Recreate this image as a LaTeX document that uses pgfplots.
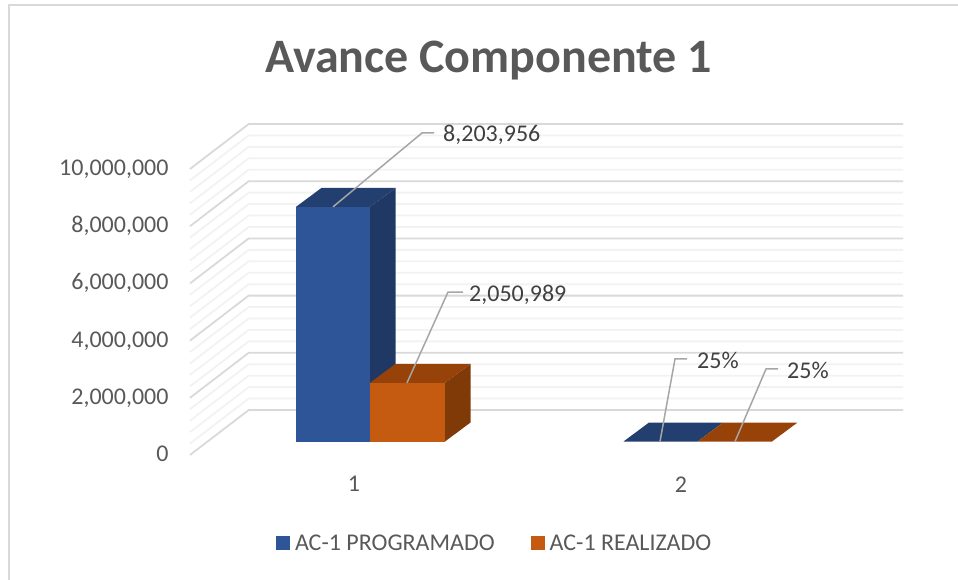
\documentclass[border=0pt]{standalone}
\usepackage{pgfplots}
\pgfplotsset{compat=1.18}
\usepackage{fontspec}
\setmainfont{Carlito}
\definecolor{txt}{HTML}{595959}
\definecolor{lab}{HTML}{404040}
\definecolor{gmaj}{HTML}{D9D9D9}
\definecolor{gmin}{HTML}{F2F2F2}
\definecolor{lead}{HTML}{A6A6A6}
\definecolor{bfront}{HTML}{2E5597}
\definecolor{btop}{HTML}{233F70}
\definecolor{bside}{HTML}{1F3864}
\definecolor{ofront}{HTML}{C55A11}
\definecolor{otop}{HTML}{964209}
\definecolor{oside}{HTML}{7F3A08}
\pgfplotsset{
 base/.style={
  scale only axis, width=958pt, height=579pt, at={(0pt,0pt)}, anchor=south west,
  xmin=0, xmax=958, axis line style={draw=none}, major tick length=0pt,
  clip=false, tick style={draw=none}},
}
\begin{document}
\begin{tikzpicture}
\path[use as bounding box] (0pt,0pt) rectangle (958pt,579pt);
\begin{scope}
\clip (0pt,0pt) rectangle (958pt,579pt);
\draw[gmaj,line width=2pt] (9pt,-5pt) -- (9pt,573.5pt) -- (965pt,573.5pt);
\end{scope}
% walls and value axis
\begin{axis}[base, ymin=-4335700, ymax=15909000,
  xtick=\empty, ytick={0,2000000,4000000,6000000,8000000,10000000},
  scaled y ticks=false,
  yticklabel style={anchor=base east, xshift=172pt, yshift=-6.5pt, text=txt, font=\fontsize{24}{28}\selectfont,
    /pgf/number format/.cd, fixed, 1000 sep={,}, assume math mode=true},
  unbounded coords=jump,
  title={\textbf{Avance Componente 1}},
  title style={at={(0.51,0.885)}, anchor=center, text=txt, font=\fontsize{48}{52}\selectfont},
 ]
\addplot[gmin,line width=1.8pt] coordinates {
(190,400000)(248.7,1973000)(903,1973000)(nan,nan)
(190,800000)(248.7,2373000)(903,2373000)(nan,nan)
(190,1200000)(248.7,2773000)(903,2773000)(nan,nan)
(190,1600000)(248.7,3173000)(903,3173000)(nan,nan)
(190,2400000)(248.7,3973000)(903,3973000)(nan,nan)
(190,2800000)(248.7,4373000)(903,4373000)(nan,nan)
(190,3200000)(248.7,4773000)(903,4773000)(nan,nan)
(190,3600000)(248.7,5173000)(903,5173000)(nan,nan)
(190,4400000)(248.7,5973000)(903,5973000)(nan,nan)
(190,4800000)(248.7,6373000)(903,6373000)(nan,nan)
(190,5200000)(248.7,6773000)(903,6773000)(nan,nan)
(190,5600000)(248.7,7173000)(903,7173000)(nan,nan)
(190,6400000)(248.7,7973000)(903,7973000)(nan,nan)
(190,6800000)(248.7,8373000)(903,8373000)(nan,nan)
(190,7200000)(248.7,8773000)(903,8773000)(nan,nan)
(190,7600000)(248.7,9173000)(903,9173000)(nan,nan)
(190,8400000)(248.7,9973000)(903,9973000)(nan,nan)
(190,8800000)(248.7,10373000)(903,10373000)(nan,nan)
(190,9200000)(248.7,10773000)(903,10773000)(nan,nan)
(190,9600000)(248.7,11173000)(903,11173000)
};
\addplot[gmaj,line width=1.8pt] coordinates {
(190,0)(248.7,1573000)(903,1573000)(nan,nan)
(190,2000000)(248.7,3573000)(903,3573000)(nan,nan)
(190,4000000)(248.7,5573000)(903,5573000)(nan,nan)
(190,6000000)(248.7,7573000)(903,7573000)(nan,nan)
(190,8000000)(248.7,9573000)(903,9573000)(nan,nan)
(190,10000000)(248.7,11573000)(903,11573000)
};
\end{axis}
% bars
\begin{axis}[base, ymin=-4807700, ymax=15437000,
  xtick={354,681}, xticklabels={1,2}, ytick=\empty,
  xticklabel style={yshift=106pt, text=txt, font=\fontsize{24}{28}\selectfont},
  legend columns=2,
  legend cell align=left,
  legend style={draw=none, fill=none, at={(276pt,36pt)}, anchor=west, inner sep=0pt, outer sep=0pt,
    text=txt, font=\fontsize{24}{28}\selectfont,
    /tikz/every even column/.style={column sep=31pt},
    nodes={inner xsep=5pt, inner ysep=0pt}},
  legend image code/.code={\fill[#1] (0pt,-7pt) rectangle (14pt,7pt);},
 ]
% group 1, series 1
\addplot[draw=none,fill=bside,forget plot] coordinates {(370,0)(395.5,664000)(395.5,8867956)(370,8203956)} -- cycle;
\addplot[draw=none,fill=btop,forget plot] coordinates {(296,8203956)(370,8203956)(395.5,8867956)(321.5,8867956)} -- cycle;
\addplot[draw=none,fill=bfront] coordinates {(296,0)(370,0)(370,8203956)(296,8203956)} -- cycle;
\addlegendentry{AC-1 PROGRAMADO}
% group 1, series 2
\addplot[draw=none,fill=oside,forget plot] coordinates {(445,0)(470.5,664000)(470.5,2714989)(445,2050989)} -- cycle;
\addplot[draw=none,fill=otop,forget plot] coordinates {(370,2050989)(445,2050989)(470.5,2714989)(395.5,2714989)} -- cycle;
\addplot[draw=none,fill=ofront] coordinates {(370,0)(445,0)(445,2050989)(370,2050989)} -- cycle;
\addlegendentry{AC-1 REALIZADO}
% group 2 (values 0.25)
\addplot[draw=none,fill=btop,forget plot] coordinates {(623.5,0.25)(697.5,0.25)(723,664000)(649,664000)} -- cycle;
\addplot[draw=none,fill=otop,forget plot] coordinates {(697.5,0.25)(772,0.25)(797.5,664000)(723,664000)} -- cycle;
% leaders
\addplot[lead,line width=1.5pt,forget plot] coordinates {(333,8203956)(422,10787000)(434,10787000)};
\addplot[lead,line width=1.5pt,forget plot] coordinates {(407,2050989)(448,5227000)(463,5227000)};
\addplot[lead,line width=1.5pt,forget plot] coordinates {(660,0.25)(675,2885000)(687,2885000)};
\addplot[lead,line width=1.5pt,forget plot] coordinates {(735,0.25)(766,2535000)(778,2535000)};
\node[anchor=base west,inner sep=0pt,text=lab,font=\fontsize{24}{28}\selectfont] at (axis cs:443,10489000) {8,203,956};
\node[anchor=base west,inner sep=0pt,text=lab,font=\fontsize{24}{28}\selectfont] at (axis cs:469,4895000) {2,050,989};
\node[anchor=base west,inner sep=0pt,text=lab,font=\fontsize{24}{28}\selectfont] at (axis cs:697,2552000) {25\%};
\node[anchor=base west,inner sep=0pt,text=lab,font=\fontsize{24}{28}\selectfont] at (axis cs:787,2203000) {25\%};
\end{axis}
\end{tikzpicture}
\end{document}
